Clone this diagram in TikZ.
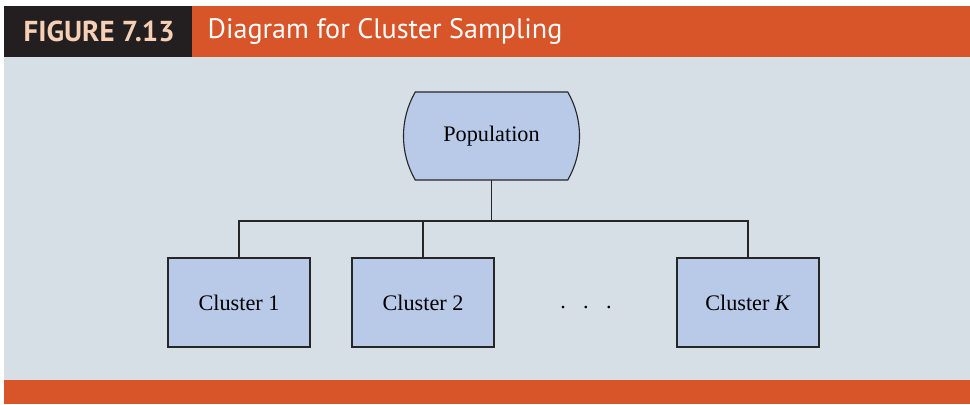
\documentclass[tikz,border=0pt]{standalone}
\usepackage{fontspec}
\setmainfont{Liberation Serif}
\newfontfamily\headfont{PT Sans}
\usetikzlibrary{shapes.misc}

\definecolor{barorange}{HTML}{D8552A}
\definecolor{bardark}{HTML}{231F20}
\definecolor{panelgrey}{HTML}{D6DFE5}
\definecolor{boxblue}{HTML}{B9C9E8}
\definecolor{peach}{HTML}{F6CFB4}

\begin{document}
\begin{tikzpicture}[x=0.025cm,y=-0.025cm,
  every node/.style={outer sep=0pt},
  cluster/.style={draw=black!85,thick,fill=boxblue,minimum width=3.55cm,minimum height=2.225cm,font=\fontsize{15.8}{18}\selectfont},
  popbox/.style={draw=black!85,thick,fill=boxblue,rounded rectangle,rounded rectangle arc length=60,minimum width=4.475cm,minimum height=2.2cm,font=\fontsize{15.8}{18}\selectfont},
  link/.style={draw=black!85,thick}]
\useasboundingbox (0,0) rectangle (970,404);
\fill[white] (0,0) rectangle (970,404);
\fill[panelgrey] (4,57) rectangle (970,380);
\fill[bardark] (4,6) rectangle (192,57);
\fill[barorange] (192,6) rectangle (970,57);
\fill[barorange] (4,380) rectangle (970,404);

\node[anchor=west,text=peach,font=\headfont\bfseries\fontsize{20.5}{24}\selectfont] (fig) at (19,31) {FIGURE 7.13};
\node[anchor=west,text=white,font=\headfont\fontsize{20}{24}\selectfont] (title) at (203,31) {Diagram for Cluster Sampling};

\node[popbox] (pop) at (491.5,136) {Population};
\node[cluster] (c1) at (239,302.5) {Cluster 1};
\node[cluster] (c2) at (423,302.5) {Cluster 2};
\node[cluster] (ck) at (748,302.5) {Cluster \textit{K}};
\node[anchor=base] (dots) at (586,308) {\fontsize{15.8}{18}\selectfont.\hspace{0.78em}.\hspace{0.78em}.};

\coordinate (split) at (491.5,221);
\draw[link] (pop.south) -- (split);
\draw[link] (c1.north) |- (split);
\draw[link] (ck.north) |- (split);
\draw[link] (c2.north) -- (c2.north |- split);
\end{tikzpicture}
\end{document}
